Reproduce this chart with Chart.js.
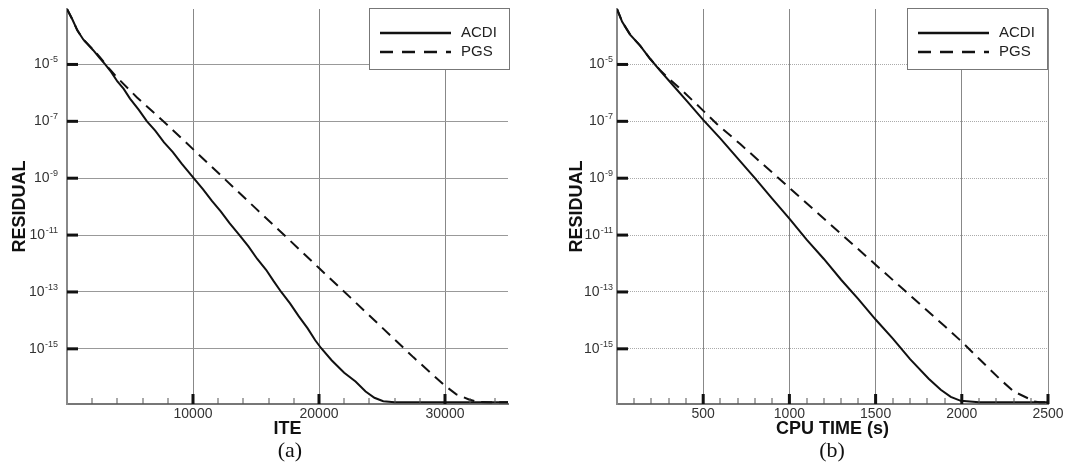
<!DOCTYPE html>
<html>
<head>
<meta charset="utf-8">
<script src="https://cdn.jsdelivr.net/npm/chart.js"></script>
<style>
  body { margin: 0; background: #fff; }
  #wrap { position: relative; width: 1070px; height: 466px; }
  .panel { position: absolute; top: 0; width: 535px; height: 466px; }
  .cap { position: absolute; top: 439px; width: 100px; text-align: center;
         font: 22px "Liberation Serif", "Times New Roman", serif; line-height: 22px; color: #111; }
</style>
</head>
<body>
<div id="wrap">
  <div class="panel" style="left:0"><canvas id="chartIte"></canvas></div>
  <div class="panel" style="left:535px"><canvas id="chartCpu"></canvas></div>
  <div class="cap" style="left:240px">(a)</div>
  <div class="cap" style="left:782px">(b)</div>
</div>
<script>
// values, residual stored as log10
const acdiIte = [0, 430, 820, 1290, 2080, 2600, 3030, 3500, 4000, 4500, 5000, 5700, 6346, 7000, 7700, 8400, 9100, 10055, 10800, 11500, 12200, 12900, 13686, 14400, 15100, 15800, 16400, 17000, 17700, 18400, 19100, 19700, 20158, 21000, 22000, 22900, 23700, 24400, 25100, 26000, 35000];
const acdiIteRes = [-3.05, -3.42, -3.80, -4.12, -4.50, -4.78, -5.00, -5.26, -5.60, -5.86, -6.20, -6.60, -7.00, -7.33, -7.74, -8.08, -8.49, -9.00, -9.39, -9.80, -10.17, -10.58, -11.00, -11.40, -11.84, -12.22, -12.62, -13.00, -13.40, -13.86, -14.28, -14.70, -14.97, -15.40, -15.84, -16.15, -16.50, -16.72, -16.84, -16.88, -16.88];
const pgsIte = [0, 430, 820, 1290, 2080, 2640, 3300, 3978, 5557, 7925, 10292, 12445, 15000, 17500, 20000, 22500, 25000, 27500, 30000, 30900, 31900, 32500, 33500, 35000];
const pgsIteRes = [-3.05, -3.42, -3.80, -4.12, -4.48, -4.76, -5.12, -5.46, -6.16, -7.11, -8.10, -9.00, -10.07, -11.11, -12.16, -13.20, -14.25, -15.30, -16.30, -16.60, -16.78, -16.86, -16.88, -16.88];

const acdiCpu = [0, 30, 76, 134, 192, 250, 326, 407, 500, 599, 700, 800, 900, 1000, 1100, 1200, 1300, 1400, 1500, 1600, 1700, 1808, 1878, 1936, 1994, 2100, 2500];
const acdiCpuRes = [-3.05, -3.50, -3.95, -4.34, -4.80, -5.22, -5.74, -6.30, -6.95, -7.60, -8.30, -9.00, -9.72, -10.42, -11.16, -11.84, -12.57, -13.25, -13.97, -14.64, -15.36, -16.05, -16.44, -16.69, -16.83, -16.88, -16.88];
const pgsCpu = [0, 30, 76, 134, 192, 250, 291, 366, 465, 581, 715, 900, 1100, 1300, 1500, 1700, 1900, 2000, 2100, 2227, 2302, 2384, 2419, 2450, 2500];
const pgsCpuRes = [-3.05, -3.50, -3.95, -4.34, -4.80, -5.20, -5.44, -5.85, -6.42, -7.10, -7.80, -8.80, -9.88, -10.96, -12.04, -13.12, -14.20, -14.75, -15.35, -16.10, -16.50, -16.74, -16.85, -16.88, -16.88];

// axes
const yTickExps = [-5, -7, -9, -11, -13, -15];
const yMinExp = -16.94, yMaxExp = -3.05;
const xTicksIte = [10000, 20000, 30000];
const xTicksCpu = [500, 1000, 1500, 2000, 2500];

const SANS = '"Liberation Sans", Arial, Helvetica, sans-serif';

const toPts = (xs, es) => xs.map((v, i) => ({ x: v, y: Math.pow(10, es[i]) }));

// draws the inward ticks, the 10^n labels and the boxed legend
const decorPlugin = {
    id: 'decor',
    afterDraw(chart, args, o) {
        const { ctx, chartArea: a, scales: { x, y } } = chart;
        ctx.save();

        yTickExps.forEach(e => {
            const py = y.getPixelForValue(Math.pow(10, e));
            ctx.fillStyle = '#111';
            ctx.fillRect(a.left, py - 1.5, 11, 3);
            ctx.fillStyle = '#333';
            ctx.textAlign = 'right';
            ctx.font = '9px ' + SANS;
            const exp = String(e);
            const ew = ctx.measureText(exp).width;
            ctx.textBaseline = 'alphabetic';
            ctx.fillText(exp, o.labelRight, py - 2);
            ctx.font = '14px ' + SANS;
            ctx.textBaseline = 'middle';
            ctx.fillText('10', o.labelRight - ew - 0.5, py);
        });

        ctx.fillStyle = '#555';
        for (let v = o.minorStep; v < x.max; v += o.minorStep) {
            if (o.major.includes(v)) continue;
            const px = x.getPixelForValue(v);
            ctx.fillRect(Math.round(px) - 0.5, a.bottom - 6, 1, 6);
        }
        ctx.fillStyle = '#111';
        o.major.forEach(v => {
            const px = x.getPixelForValue(v);
            ctx.fillRect(px - 1.5, a.bottom - 10, 3, 10);
        });

        // legend
        const bw = 141, bh = 62;
        const bx = a.right + o.legendShift - bw, by = 8;
        ctx.fillStyle = '#fff';
        ctx.fillRect(bx, by, bw, bh);
        ctx.strokeStyle = '#777';
        ctx.lineWidth = 1;
        ctx.strokeRect(bx + 0.5, by + 0.5, bw - 1, bh - 1);
        chart.data.datasets.forEach((ds, i) => {
            const ly = by + 25 + i * 19;
            ctx.setLineDash(ds.borderDash ? [13, 9] : []);
            ctx.strokeStyle = '#111';
            ctx.lineWidth = 2.5;
            ctx.beginPath();
            ctx.moveTo(bx + 11, ly);
            ctx.lineTo(bx + 82, ly);
            ctx.stroke();
            ctx.setLineDash([]);
            ctx.fillStyle = '#222';
            ctx.font = '15px ' + SANS;
            ctx.textAlign = 'left';
            ctx.textBaseline = 'middle';
            ctx.fillText(ds.label, bx + 92, ly);
        });
        ctx.restore();
    }
};

function makeChart(id, cfg) {
    const ctx = document.getElementById(id).getContext('2d');
    return new Chart(ctx, {
        type: 'line',
        data: {
            datasets: [
                { label: 'ACDI', data: cfg.acdi, borderColor: '#111', borderWidth: 2, pointRadius: 0, tension: 0 },
                { label: 'PGS', data: cfg.pgs, borderColor: '#111', borderWidth: 2, borderDash: [11, 7], pointRadius: 0, tension: 0 }
            ]
        },
        plugins: [decorPlugin],
        options: {
            responsive: true,
            maintainAspectRatio: false,
            animation: false,
            layout: { padding: { top: 9, right: cfg.padRight, left: 0, bottom: 0 } },
            plugins: {
                legend: { display: false },
                tooltip: { enabled: false },
                decor: { labelRight: cfg.labelRight, minorStep: cfg.minorStep, major: cfg.xTicks, legendShift: cfg.legendShift }
            },
            scales: {
                x: {
                    type: 'linear',
                    min: 0,
                    max: cfg.xMax,
                    afterBuildTicks: s => { s.ticks = cfg.xTicks.map(v => ({ value: v })); },
                    afterFit: s => { s.height = 62; s.paddingLeft = 0; s.paddingRight = 0; },
                    ticks: {
                        autoSkip: false, maxRotation: 0, padding: 2,
                        color: '#333', font: { family: SANS, size: 14 },
                        callback: v => String(v)
                    },
                    grid: { drawTicks: false, color: '#888', lineWidth: 1 },
                    border: { color: '#777', width: 2 },
                    title: {
                        display: true, text: cfg.xTitle, color: '#111',
                        font: { family: SANS, size: 18, weight: 'bold' },
                        padding: { top: 0, bottom: 26 }
                    }
                },
                y: {
                    type: 'logarithmic',
                    min: Math.pow(10, yMinExp),
                    max: Math.pow(10, yMaxExp),
                    afterBuildTicks: s => { s.ticks = yTickExps.map(e => ({ value: Math.pow(10, e) })); },
                    afterFit: s => { s.width = cfg.yWidth; s.paddingTop = 0; s.paddingBottom = 0; },
                    ticks: { display: false },
                    grid: { drawTicks: false, color: cfg.hGridColor, lineWidth: 1 },
                    border: { color: '#888', width: 2, dash: cfg.hGridDash },
                    title: {
                        display: true, text: 'RESIDUAL', color: '#111',
                        font: { family: SANS, size: 18, weight: 'bold' },
                        padding: { top: cfg.yTitlePad, bottom: 0 }
                    }
                }
            }
        }
    });
}

document.addEventListener('DOMContentLoaded', () => {
    // 1. residual vs iterations
    makeChart('chartIte', {
        acdi: toPts(acdiIte, acdiIteRes),
        pgs: toPts(pgsIte, pgsIteRes),
        xMax: 35000, xTicks: xTicksIte, minorStep: 2000, xTitle: 'ITE',
        yWidth: 67, padRight: 27, labelRight: 58, yTitlePad: 9, legendShift: 2,
        hGridColor: '#999', hGridDash: []
    });

    // 2. residual vs cpu time
    makeChart('chartCpu', {
        acdi: toPts(acdiCpu, acdiCpuRes),
        pgs: toPts(pgsCpu, pgsCpuRes),
        xMax: 2500, xTicks: xTicksCpu, minorStep: 100, xTitle: 'CPU TIME (s)',
        yWidth: 82, padRight: 22, labelRight: 78, yTitlePad: 31, legendShift: 0,
        hGridColor: '#aaa', hGridDash: [1, 1]
    });
});
</script>
</body>
</html>
